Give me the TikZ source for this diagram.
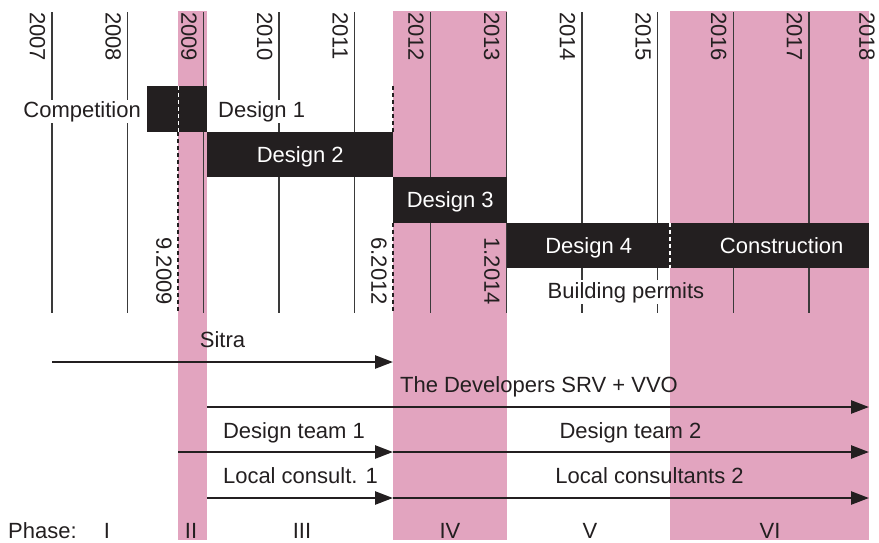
\documentclass[tikz,border=0pt]{standalone}
\usepackage{fontspec}
\setmainfont{Liberation Sans}
\usepackage{tikz}
\usetikzlibrary{arrows.meta}
\usetikzlibrary{positioning}

\definecolor{phasepink}{RGB}{226,164,191}
\definecolor{barblack}{RGB}{35,31,32}
\definecolor{gridgray}{RGB}{58,58,58}

\begin{document}
\begin{tikzpicture}[x=1pt, y=-1pt,
		font=\fontsize{22}{26}\selectfont,
		bar/.style={fill=barblack, text=white, minimum height=45.5, inner sep=0, text height=16, text depth=0, anchor=north west},
		lbl/.style={text=barblack, inner sep=0, anchor=base},
		yr/.style={text=barblack, inner sep=0, rotate=-90, anchor=north west},
		date/.style={text=barblack, inner sep=0, rotate=-90, anchor=north east},
		arr/.style={line width=2.5, draw=barblack},
		dash line/.style={line width=1.3, dash pattern=on 4pt off 3pt},
		>={Triangle[length=18pt, width=13pt]},
]

\useasboundingbox (0,0) rectangle (879,542);

% phases II, IV and VI
\fill[phasepink] (178,11) rectangle (207,540);
\fill[phasepink] (393,11) rectangle (507,540);
\fill[phasepink] (670,11) rectangle (869,540);

% years
\foreach \i/\yr in {0/2007,1/2008,2/2009,3/2010,4/2011,5/2012,6/2013,7/2014,8/2015,9/2016,10/2017}{
	\draw[gridgray, line width=1.3] ({52+75.7*\i},12) -- ({52+75.7*\i},313);
	\node[yr] (y\yr) at ({45.5+75.7*\i},12) {\yr};
}
\node[yr] (y2018) at (875,12) {2018};

% milestones
\draw[barblack, dash line] (178,131.5) -- (178,313);
\draw[barblack, dash line] (393,86) -- (393,131.5);
\draw[barblack, dash line] (393,222.5) -- (393,313);

\node[date] (m9) at (172,305) {9.2009};
\node[date] (m6) at (387,305) {6.2012};
\node[date] (m1) at (500,305) {1.2014};

% design stages
\node[bar, minimum width=60] (comp) at (147,86) {};
\node[bar, minimum width=186] (d2) at (207,131.5) {Design 2};
\node[bar, minimum width=114] (d3) at (393,177) {Design 3};
\node[bar, minimum width=163] (d4) at (507,222.5) {Design 4};
\node[bar, minimum width=199] (con) at (670,222.5) {};
\node[bar, fill=none, minimum height=0, anchor=center] (contxt) at ([xshift=12]con.center) {Construction};

\draw[white, dash line] (comp.north) ++(1,0) -- ++(0,45.5);
\draw[white, dash line] (con.north west) -- (con.south west);

\node[lbl, fill=white, inner sep=1, anchor=base east] (comptxt) at (142,117) {Competition};
\node[lbl, fill=white, inner sep=1, anchor=base west] (d1) at (217,117) {Design 1};

\fill[white] (545,280) rectangle (670,304);
\node[lbl] (bp) at (626,298) {Building permits};

% parties
\coordinate (sitraA) at (52,362);
\coordinate (sitraB) at (393,362);
\coordinate (devA) at (207,407);
\coordinate (devB) at (869,407);
\coordinate (dtA) at (178,452);
\coordinate (dtM) at (393,452);
\coordinate (dtB) at (869,452);
\coordinate (lcA) at (207,498);
\coordinate (lcM) at (393,498);
\coordinate (lcB) at (869,498);

\draw [arr, ->] (sitraA) -- (sitraB);
\draw [arr, ->] (devA) -- (devB);
\draw [arr, ->] (dtA) -- (dtM);
\draw [arr, ->] (dtM) -- (dtB);
\draw [arr, ->] (lcA) -- (lcM);
\draw [arr, ->] (lcM) -- (lcB);

\node[lbl] (sitra) at (222.5,347) {Sitra};
\node[lbl] (dev) at (539,392) {The Developers SRV + VVO};
\node[lbl] (dt1) at (294,438) {Design team 1};
\node[lbl] (dt2) at (630.5,438) {Design team 2};
\node[lbl] (lc1) at (300.5,483) {Local consult. 1};
\node[lbl] (lc2) at (649.5,483) {Local consultants 2};

% phase row
\node[lbl, anchor=base west] (phase) at (8,538) {Phase:};
\node[lbl] (p1) at (107,538) {I};
\node[lbl] (p2) at (191,538) {II};
\node[lbl] (p3) at (302,538) {III};
\node[lbl] (p4) at (450,538) {IV};
\node[lbl] (p5) at (590,538) {V};
\node[lbl] (p6) at (770,538) {VI};

\end{tikzpicture}
\end{document}
